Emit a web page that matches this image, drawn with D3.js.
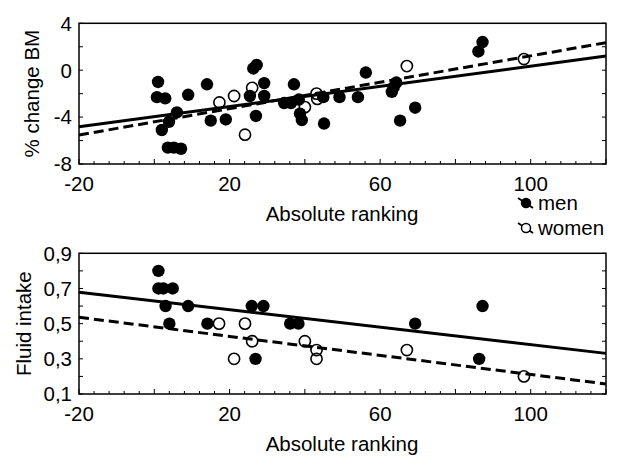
<!DOCTYPE html>
<html><head><meta charset="utf-8">
<script src="https://cdn.jsdelivr.net/npm/d3@7"></script>
<style>
body{margin:0;background:#fff}
text{font-family:"Liberation Sans",Arial,sans-serif;font-size:20.5px;fill:#000}
</style>
</head><body>
<svg id="c" width="624" height="468"></svg>
<script>
// ---- data ----
const xTicks = [-20, 20, 60, 100];
const topYTicks = [-8, -4, 0, 4];
const botYTicks = [0.1, 0.3, 0.5, 0.7, 0.9];
const botYLabels = ["0,1", "0,3", "0,5", "0,7", "0,9"];

const topMen = [
  [1.0,-1.0],[0.7,-2.3],[2.9,-2.4],[2.0,-5.1],[3.9,-4.4],[6.0,-3.6],
  [3.6,-6.6],[5.2,-6.6],[7.1,-6.7],[9.0,-2.1],[14.0,-1.2],[15.0,-4.3],
  [19.0,-4.2],[25.4,-2.2],[26.3,0.15],[27.2,0.45],[27.0,-3.9],[29.2,-1.1],
  [29.2,-2.2],[34.5,-2.8],[36.3,-2.8],[37.1,-1.2],[38.4,-2.5],[38.7,-3.7],
  [39.2,-4.25],[44.9,-2.3],[45.1,-4.55],[49.2,-2.3],[54.1,-2.3],[56.2,-0.2],
  [63.1,-1.85],[63.6,-1.45],[64.3,-1.05],[65.3,-4.3],[69.3,-3.2],
  [86.1,1.6],[87.2,2.4]
];
const topWomen = [
  [17.3,-2.75],[21.2,-2.2],[24.1,-5.5],[26.0,-1.5],[40.0,-3.15],
  [43.1,-2.0],[43.3,-2.45],[67.1,0.35],[98.2,0.95]
];
const topMenFit = [[-20,-4.82],[120,1.21]];
const topWomenFit = [[-20,-5.53],[120,2.35]];

const botMen = [
  [1.1,0.8],[1.1,0.7],[2.4,0.7],[4.9,0.7],[3.0,0.6],[4.0,0.5],[9.0,0.6],
  [14.1,0.5],[25.9,0.6],[29.0,0.6],[26.9,0.3],[36.1,0.5],[38.3,0.5],
  [69.3,0.5],[87.2,0.6],[86.3,0.3]
];
const botWomen = [
  [17.2,0.5],[24.1,0.5],[26.0,0.4],[21.2,0.3],[40.0,0.4],[43.1,0.35],
  [43.1,0.3],[67.1,0.35],[98.2,0.2]
];
const botMenFit = [[-20,0.678],[120,0.331]];
const botWomenFit = [[-20,0.536],[120,0.157]];

const legendLabels = ["men", "women"];

// ---- drawing ----
const svg = d3.select("#c");
const x = d3.scaleLinear().domain([-20, 120]).range([79, 606]);

function panel(y, yTicks, yLabels, yMinorStep, men, women, menFit, womenFit, yTitle, yTitleX) {
  const [y0, y1] = y.range(); // bottom, top
  const g = svg.append("g");
  // minor ticks x
  const xMinor = d3.range(-20, 120.001, 4);
  g.selectAll(null).data(xMinor).join("line")
    .attr("x1", d => x(d)).attr("x2", d => x(d))
    .attr("y1", y0).attr("y2", d => y0 - (xTicks.includes(d) || d % 20 === 0 ? 5 : 3))
    .attr("stroke", "#000").attr("stroke-width", 1);
  // minor ticks y (left and right)
  const [d0, d1] = y.domain();
  const yMinor = d3.range(d0, d1 + yMinorStep / 2, yMinorStep);
  [x.range()[0], x.range()[1]].forEach((xx, i) => {
    const dir = i === 0 ? 1 : -1;
    g.selectAll(null).data(yMinor).join("line")
      .attr("x1", xx).attr("x2", xx + dir * 4)
      .attr("y1", d => y(d)).attr("y2", d => y(d))
      .attr("stroke", "#000").attr("stroke-width", 1);
  });
  // points
  g.selectAll(null).data(men).join("circle")
    .attr("cx", d => x(d[0])).attr("cy", d => y(d[1])).attr("r", 6.2)
    .attr("fill", "#000");
  g.selectAll(null).data(women).join("circle")
    .attr("cx", d => x(d[0])).attr("cy", d => y(d[1])).attr("r", 5.6)
    .attr("fill", "none").attr("stroke", "#000").attr("stroke-width", 1.6);
  // fit lines
  const line = d3.line().x(d => x(d[0])).y(d => y(d[1]));
  g.append("path").attr("d", line(menFit)).attr("stroke", "#000")
    .attr("stroke-width", 3).attr("fill", "none");
  g.append("path").attr("d", line(womenFit)).attr("stroke", "#000")
    .attr("stroke-width", 3).attr("fill", "none").attr("stroke-dasharray", "10,5");
  // frame
  g.append("rect").attr("x", x.range()[0]).attr("y", y1)
    .attr("width", x.range()[1] - x.range()[0]).attr("height", y0 - y1)
    .attr("fill", "none").attr("stroke", "#000").attr("stroke-width", 1.5);
  // x labels
  g.selectAll(null).data(xTicks).join("text")
    .attr("x", d => x(d)).attr("y", y0 + 27).attr("text-anchor", "middle")
    .text(d => d);
  // y labels
  g.selectAll(null).data(yTicks).join("text")
    .attr("x", 72).attr("y", d => y(d)).attr("dy", "0.36em").attr("text-anchor", "end")
    .text((d, i) => yLabels ? yLabels[i] : d);
  // titles
  g.append("text").attr("x", 342).attr("y", y0 + 57).attr("text-anchor", "middle")
    .text("Absolute ranking");
  g.append("text").attr("transform", `translate(${yTitleX},${(y0 + y1) / 2}) rotate(-90)`)
    .attr("text-anchor", "middle").text(yTitle);
}

const yTop = d3.scaleLinear().domain([-8, 4]).range([164, 23.3]);
const yBot = d3.scaleLinear().domain([0.1, 0.9]).range([394, 253.3]);

panel(yTop, topYTicks, null, 2, topMen, topWomen, topMenFit, topWomenFit, "% change BM", 39);
panel(yBot, botYTicks, botYLabels, 0.1, botMen, botWomen, botMenFit, botWomenFit, "Fluid intake", 31);

// legend
const leg = svg.append("g");
legendLabels.forEach((lab, i) => {
  const cy = 203 + i * 25;
  leg.append("line").attr("x1", 518).attr("y1", cy - 5).attr("x2", 533).attr("y2", cy + 5)
    .attr("stroke", "#000").attr("stroke-width", 1.8);
  leg.append("circle").attr("cx", 526).attr("cy", cy).attr("r", 4.5)
    .attr("fill", i === 0 ? "#000" : "#fff").attr("stroke", "#000").attr("stroke-width", 1.5);
  leg.append("text").attr("x", 538).attr("y", cy + 7).text(lab);
});
</script>
</body></html>
